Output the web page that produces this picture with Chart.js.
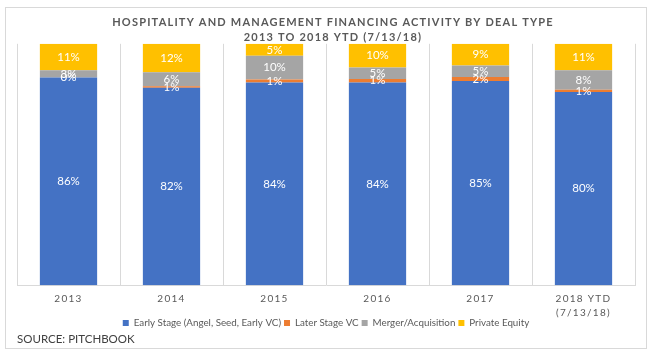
<!DOCTYPE html>
<html>
<head>
<meta charset="utf-8">
<script src="https://cdn.jsdelivr.net/npm/chart.js@4"></script>
<style>
  body { margin: 0; background: #fff; }
  #frame { position: absolute; left: 5px; top: 7px; width: 640px; height: 340px; border: 1px solid #d9d9d9; }
  #chart { display: block; }
  #source { position: absolute; left: 11px; top: 324px; font: 11.5px Lato, sans-serif; color: #404040; }
</style>
</head>
<body>
<div id="frame">
  <canvas id="chart" width="640" height="340"></canvas>
  <div id="source">SOURCE: PITCHBOOK</div>
</div>
<script>
const years = ['2013', '2014', '2015', '2016', '2017', ['2018 YTD', '(7/13/18)']];
const earlyStage = [86, 81.8, 84, 84, 84.6, 80];
const laterStage = [0, 0.6, 1.2, 1.4, 1.6, 1];
const mergerAcq = [3, 5.8, 9.8, 4.8, 4.8, 8];
const privateEquity = [11, 11.8, 5, 9.8, 9, 11];
const titleLines = ['HOSPITALITY AND MANAGEMENT FINANCING ACTIVITY BY DEAL TYPE', '2013 TO 2018 YTD (7/13/18)'];

const grey = '#595959';

// white percentage labels in the middle of each segment
const segmentLabels = {
  id: 'segmentLabels',
  afterDatasetsDraw(chart) {
    const ctx = chart.ctx;
    ctx.save();
    ctx.font = '11.5px Lato, sans-serif';
    ctx.fillStyle = '#fff';
    ctx.textAlign = 'center';
    ctx.textBaseline = 'middle';
    chart.data.datasets.forEach((ds, i) => {
      chart.getDatasetMeta(i).data.forEach((bar, j) => {
        const y = (bar.y + bar.base) / 2;
        ctx.fillText(Math.round(ds.data[j]) + '%', bar.x, y);
      });
    });
    ctx.restore();
  }
};

// letter-spaced title and category labels
const spacing = {
  id: 'spacing',
  afterUpdate(chart) {
    const x = chart.scales.x;
    if (!x._spaced) {
      const orig = x.drawLabels;
      x._computeLabelArea = () => undefined; // let the 2nd line run under the legend
      x.drawLabels = function (area) {
        this.ctx.save();
        this.ctx.letterSpacing = '1.3px';
        orig.call(this, area);
        this.ctx.restore();
      };
      x._spaced = true;
    }
    const t = chart.titleBlock;
    if (t && !t._spaced) {
      const origT = t.draw;
      t.draw = function () {
        this.ctx.save();
        this.ctx.letterSpacing = '1.2px';
        this.ctx.translate(7, 0);
        origT.call(this);
        this.ctx.restore();
      };
      t._spaced = true;
    }
  }
};

new Chart(document.getElementById('chart'), {
  type: 'bar',
  data: {
    labels: years,
    datasets: [
      { label: 'Early Stage (Angel, Seed, Early VC)', data: earlyStage, backgroundColor: '#4472c4' },
      { label: 'Later Stage VC', data: laterStage, backgroundColor: '#ed7d31' },
      { label: 'Merger/Acquisition', data: mergerAcq, backgroundColor: '#a5a5a5' },
      { label: 'Private Equity', data: privateEquity, backgroundColor: '#ffc000' }
    ]
  },
  plugins: [segmentLabels, spacing],
  options: {
    responsive: false,
    animation: false,
    layout: { padding: { left: 11, right: 11, top: 0, bottom: 10 } },
    datasets: { bar: { categoryPercentage: 1, barPercentage: 0.556 } },
    plugins: {
      title: {
        display: true,
        text: titleLines,
        color: grey,
        font: { family: 'Lato, sans-serif', size: 11, weight: 'bold', lineHeight: 1.4 },
        padding: { top: 6.5, bottom: -1.5 }
      },
      legend: {
        position: 'bottom',
        labels: {
          color: grey,
          boxWidth: 6,
          boxHeight: 6,
          padding: 3,
          font: { family: 'Lato, sans-serif', size: 9.8 }
        }
      },
      tooltip: { enabled: false }
    },
    scales: {
      x: {
        stacked: true,
        grid: { color: '#d9d9d9', drawTicks: false },
        border: { color: '#d9d9d9' },
        ticks: { color: grey, padding: 7, font: { family: 'Lato, sans-serif', size: 10, lineHeight: 1.4 } },
        afterFit(scale) { scale.height = 30; }
      },
      y: {
        stacked: true,
        display: false,
        min: 0,
        max: 100
      }
    }
  }
});
</script>
</body>
</html>
